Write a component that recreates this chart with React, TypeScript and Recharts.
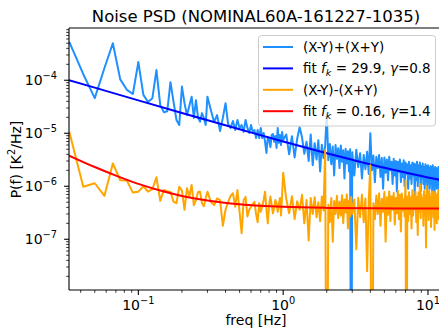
import React from 'react';
import { LineChart, Line, XAxis, YAxis } from 'recharts';

const FONT = '"DejaVu Sans", sans-serif';

// PSD bins. Each segment is a regular frequency grid (start, step in Hz);
// low frequencies are kept at full resolution, higher ones thinned out.
const gridA = { start: 1 / 30, step: 1 / 120 };
const gridB = { start: 19 / 60, step: 1 / 60 };
const gridC = { start: 1.05, step: 0.05 };
const gridD = { start: 3.1, step: 0.1 };

// (X-Y)+(X+Y)  [K^2/Hz]
const sumA = [
  5.3e-4, 1.3e-4, 4.6e-5, 1.7e-4, 5.0e-4, 1.04e-4, 6.6e-5, 5.5e-5, 2.2e-4, 5.3e-5, 3.9e-5,
  4.6e-5, 1.56e-4, 3.4e-5, 2.5e-5, 2.6e-5, 9.2e-5, 3.9e-5, 1.78e-5, 1.43e-5, 7.6e-5, 3.7e-5,
  2.2e-5, 3.3e-5, 4.9e-5, 1.95e-5, 4.2e-5, 1.95e-5, 1.66e-5, 2.4e-5, 1.95e-5, 1.43e-5, 4.9e-5,
];
const sumB = [
  2.75e-5, 1.63e-5, 2.2e-5, 1.1e-5, 1.95e-5, 3.7e-5, 1.5e-5, 1.26e-5, 1.7e-5, 1.15e-5, 1.78e-5,
  1.26e-5, 1.43e-5, 1.06e-5, 1.78e-5, 1.26e-5, 1.01e-5, 1.43e-5, 1.06e-5, 1.15e-5, 8.1e-6,
  1.15e-5, 8.1e-6, 1.26e-5, 8.1e-6, 1.01e-5, 6.9e-6, 4.25e-6, 8.5e-6, 7.5e-6, 5.5e-6, 9.3e-6,
  9.7e-6, 6.9e-6, 8.9e-6, 5.3e-6, 1.26e-5, 6.6e-6, 9.3e-6, 6.0e-6, 1.06e-5, 7.5e-6,
];
const sumC = [
  9.5e-6, 4.0e-6, 8.8e-6, 3.5e-6, 7.9e-6, 1.3e-5, 8.4e-6, 4.1e-6, 6.9e-6, 3.0e-6, 9.5e-6,
  2.5e-6, 6.5e-6, 3.2e-6, 7.4e-6, 1.9e-6, 6.1e-6, 3.4e-6, 5.8e-6, 2.4e-5, 3.1e-6, 6.3e-6,
  2.6e-6, 5.6e-6, 1.6e-6, 6.0e-6, 3.3e-6, 5.2e-6, 2.2e-6, 5.9e-6, 2.9e-6, 4.8e-6, 1.4e-6,
  5.1e-6, 2.7e-6, 4.6e-6, 1.9e-6, 5.0e-6, 0, 4.4e-6,
];
const sumD = [
  1.6e-6, 4.9e-6, 2.3e-6, 4.2e-6, 1.4e-6, 3.9e-6, 2.1e-6, 4.5e-6, 1.7e-6, 1.0e-5, 2.0e-6,
  3.8e-6, 1.2e-6, 3.6e-6, 2.2e-6, 3.9e-6, 1.5e-6, 3.4e-6, 0.9e-6, 3.5e-6, 1.8e-6, 3.2e-6,
  1.3e-6, 3.6e-6, 2.0e-6, 2.9e-6, 1.1e-6, 3.3e-6, 1.6e-6, 3.0e-6, 0.8e-6, 2.9e-6, 1.9e-6,
  3.2e-6, 1.2e-6, 2.7e-6, 1.5e-6, 3.1e-6, 1.0e-6, 2.8e-6, 1.7e-6, 2.6e-6, 0.9e-6, 2.9e-6,
  1.4e-6, 2.5e-6, 1.1e-6, 2.8e-6, 1.6e-6, 2.7e-6, 0.7e-6, 2.6e-6, 1.3e-6, 2.9e-6, 1.0e-6,
  2.5e-6, 1.5e-6, 2.8e-6, 0.8e-6, 2.4e-6, 1.4e-6, 2.7e-6, 1.1e-6, 2.3e-6, 0.9e-6, 2.6e-6,
  1.3e-6, 2.4e-6, 0.7e-6, 2.5e-6, 1.2e-6, 2.2e-6, 0.9e-6, 2.4e-6, 1.4e-6, 2.3e-6, 0.8e-6,
  2.5e-6, 1.1e-6, 2.1e-6, 0.7e-6, 2.3e-6, 1.3e-6, 2.2e-6, 0.9e-6, 2.0e-6, 1.2e-6, 2.3e-6,
  0.8e-6, 2.1e-6, 1.0e-6, 1.9e-6, 0.75e-6, 2.1e-6, 1.1e-6, 1.8e-6,
];

// (X-Y)-(X+Y)  [K^2/Hz]
const diffA = [
  1.07e-5, 9.8e-7, 1.14e-6, 6.6e-7, 2.7e-6, 1.3e-6, 1.28e-6, 7.6e-7, 7.9e-7, 1.0e-6, 7.9e-7,
  8.8e-7, 1.48e-6, 5.3e-7, 8.5e-7, 8.1e-7, 7.8e-7, 5.1e-7, 4.8e-7, 9.8e-7, 8.3e-7, 3.6e-7,
  9.2e-7, 6.4e-7, 1.06e-6, 4.4e-7, 5.5e-7, 7.8e-7, 7.9e-7, 4.8e-7, 4.2e-7, 6.0e-7, 7.9e-7,
];
const diffB = [
  5.1e-7, 4.4e-7, 5.9e-7, 5.5e-7, 1.8e-7, 3.6e-7, 5.0e-7, 6.6e-7, 7.4e-7, 4.1e-7, 8.5e-7,
  3.3e-7, 1.3e-7, 5.5e-7, 6.3e-7, 2.7e-7, 3.6e-7, 4.1e-7, 4.6e-7, 5.1e-7, 3.0e-7, 2.1e-7,
  4.8e-7, 3.3e-7, 4.1e-7, 5.5e-7, 7.9e-7, 3.6e-7, 2.0e-7, 4.4e-7, 6.4e-7, 4.4e-7, 3.1e-7,
  3.9e-7, 5.5e-7, 4.8e-7, 3.3e-7, 4.6e-7, 6.0e-7, 2.8e-7, 6.9e-7, 1.8e-6,
];
const diffC = [
  5.8e-7, 3.1e-7, 6.5e-7, 2.4e-7, 5.2e-7, 3.6e-7, 6.9e-7, 2.0e-7, 5.5e-7, 0.95e-7, 6.0e-7,
  3.0e-7, 6.2e-7, 2.6e-7, 5.0e-7, 2.2e-7, 6.4e-7, 3.5e-7, 4.8e-6, 0, 4.5e-7, 2.1e-7,
  6.0e-7, 0.9e-7, 5.3e-7, 3.0e-7, 6.6e-7, 2.5e-7, 5.1e-7, 2.8e-7, 6.8e-7, 2.0e-7, 5.6e-7,
  3.2e-7, 7.0e-7, 1.6e-7, 5.4e-7, 2.7e-7, 6.3e-7, 3.0e-7,
];
const diffD = [
  5.6e-7, 0.65e-7, 6.1e-7, 2.6e-7, 7.0e-7, 2.1e-7, 5.9e-7, 0.25e-7, 5.4e-7, 2.5e-6, 0,
  4.8e-7, 2.4e-7, 6.7e-7, 3.0e-7, 7.4e-7, 1.8e-7, 5.8e-7, 3.3e-7, 7.8e-7, 0.9e-7, 6.2e-7,
  2.9e-7, 8.0e-7, 2.2e-7, 6.5e-7, 3.6e-7, 7.5e-7, 1.9e-7, 6.0e-7, 3.1e-7, 8.2e-7, 2.4e-7,
  6.9e-7, 1.4e-7, 7.3e-7, 3.5e-7, 5.7e-7, 2.7e-7, 1.3e-6, 0, 6.4e-7, 2.2e-7, 7.7e-7,
  3.0e-7, 6.2e-7, 1.6e-7, 8.4e-7, 2.8e-7, 6.8e-7, 3.7e-7, 7.9e-7, 2.1e-7, 6.3e-7, 1.2e-7,
  7.6e-7, 3.3e-7, 1.1e-6, 2.5e-7, 7.1e-7, 3.9e-7, 6.0e-7, 1.8e-7, 8.1e-7, 2.9e-7, 6.6e-7,
  0.7e-7, 1.0e-6, 3.4e-7, 7.0e-7, 2.3e-7, 8.3e-7, 3.1e-7, 6.1e-7, 1.7e-7, 7.4e-7, 3.6e-7,
  8.0e-7, 2.6e-7, 6.7e-7, 1.5e-7, 7.8e-7, 3.2e-7, 6.4e-7, 2.0e-7, 7.2e-7, 3.8e-7, 8.5e-7,
  2.4e-7, 6.9e-7, 1.3e-7, 7.5e-7, 3.0e-7, 6.2e-7, 2.7e-7, 7.1e-7,
];

// fitted 1/f models
const sumFitFreq = [0.0332, 0.05, 0.1, 0.2, 0.5, 1, 2, 3, 5, 7, 10, 12.7];
const sumFitVal = [1.0e-4, 7.25e-5, 4.18e-5, 2.42e-5, 1.19e-5, 6.99e-6, 4.2e-6, 3.16e-6, 2.24e-6, 1.82e-6, 1.47e-6, 1.29e-6];
const diffFitFreq = [0.0332, 0.05, 0.07, 0.1, 0.15, 0.2, 0.3, 0.5, 0.7, 1, 2, 4, 12.7];
const diffFitVal = [3.8e-6, 2.31e-6, 1.59e-6, 1.11e-6, 7.96e-7, 6.58e-7, 5.38e-7, 4.57e-7, 4.28e-7, 4.09e-7, 3.91e-7, 3.84e-7, 3.81e-7];

const xMajor = [0.1, 1, 10];
const xMajorExp = ['\u22121', '0', '1'];
const xMinor = [0.04, 0.05, 0.06, 0.07, 0.08, 0.09, 0.2, 0.3, 0.4, 0.5, 0.6, 0.7, 0.8, 0.9, 2, 3, 4, 5, 6, 7, 8, 9];
const yMajor = [1e-7, 1e-6, 1e-5, 1e-4];
const yMajorExp = ['\u22127', '\u22126', '\u22125', '\u22124'];
const yMinor = [
  2e-8, 3e-8, 4e-8, 5e-8, 6e-8, 7e-8, 8e-8, 9e-8,
  2e-7, 3e-7, 4e-7, 5e-7, 6e-7, 7e-7, 8e-7, 9e-7,
  2e-6, 3e-6, 4e-6, 5e-6, 6e-6, 7e-6, 8e-6, 9e-6,
  2e-5, 3e-5, 4e-5, 5e-5, 6e-5, 7e-5, 8e-5, 9e-5,
  2e-4, 3e-4, 4e-4, 5e-4, 6e-4, 7e-4, 8e-4, 9e-4,
];

const legendItems = [
  { color: '#1e90ff', kind: 'sum' },
  { color: '#0000ff', kind: 'sumFit' },
  { color: '#ffa500', kind: 'diff' },
  { color: '#ff0000', kind: 'diffFit' },
];

const ZERO_FLOOR = 1e-12; // zero bins cannot sit on a log axis

const bins = (grid: { start: number; step: number }, vals: number[]) =>
  vals.map((p, i) => ({ f: grid.start + i * grid.step, p: p > 0 ? p : ZERO_FLOOR }));

const sumData = [...bins(gridA, sumA), ...bins(gridB, sumB), ...bins(gridC, sumC), ...bins(gridD, sumD)];
const diffData = [...bins(gridA, diffA), ...bins(gridB, diffB), ...bins(gridC, diffC), ...bins(gridD, diffD)];
const sumFit = sumFitFreq.map((f, i) => ({ f, p: sumFitVal[i] }));
const diffFit = diffFitFreq.map((f, i) => ({ f, p: diffFitVal[i] }));

const W = 443;
const H = 329;
const LEFT = 69;
const TOP = 28;
const BOTTOM = 290;

const XTick = (props: any) => {
  const { x, payload } = props;
  const idx = xMajor.indexOf(payload.value);
  const major = idx >= 0;
  return (
    <g>
      <line x1={x} x2={x} y1={BOTTOM} y2={BOTTOM + (major ? 4.9 : 2.8)} stroke="#000" strokeWidth={major ? 1.1 : 0.8} />
      {major && (
        <text x={x} y={310} textAnchor="middle" fontFamily={FONT} fontSize={14} fill="#000">
          10<tspan dy={-6} fontSize={9.8}>{xMajorExp[idx]}</tspan>
        </text>
      )}
    </g>
  );
};

const YTick = (props: any) => {
  const { y, payload } = props;
  const idx = yMajor.indexOf(payload.value);
  const major = idx >= 0;
  return (
    <g>
      <line x1={LEFT} x2={LEFT - (major ? 4.9 : 2.8)} y1={y} y2={y} stroke="#000" strokeWidth={major ? 1.1 : 0.8} />
      {major && (
        <text x={57} y={y + 5} textAnchor="end" fontFamily={FONT} fontSize={14} fill="#000">
          10<tspan dy={-6} fontSize={9.8}>{yMajorExp[idx]}</tspan>
        </text>
      )}
    </g>
  );
};

const LegendLabel = ({ kind }: { kind: string }) => {
  if (kind === 'sum') return <>(X-Y)+(X+Y)</>;
  if (kind === 'diff') return <>(X-Y)-(X+Y)</>;
  const fk = kind === 'sumFit' ? '29.9' : '0.16';
  const g = kind === 'sumFit' ? '0.8' : '1.4';
  return (
    <>
      fit <tspan fontStyle="italic">f</tspan>
      <tspan fontSize={9.5} dy={3} fontStyle="italic">k</tspan>
      <tspan dy={-3}>{` = ${fk}, `}</tspan>
      <tspan fontStyle="italic">γ</tspan>={g}
    </>
  );
};

export default function App() {
  const line = { dot: false, activeDot: false, isAnimationActive: false, strokeWidth: 2, strokeLinejoin: 'round' as const, dataKey: 'p', type: 'linear' as const };
  return (
    <div style={{ position: 'fixed', left: 0, top: 0, width: 439, height: 329, overflow: 'hidden', background: '#fff' }}>
      <LineChart width={W} height={H} margin={{ top: TOP, right: 0, bottom: 0, left: 0 }}>
        <XAxis
          dataKey="f"
          type="number"
          scale="log"
          domain={[0.0332, 12.7]}
          allowDataOverflow
          ticks={[...xMajor, ...xMinor]}
          interval={0}
          tick={<XTick />}
          tickLine={false}
          tickSize={0}
          tickMargin={0}
          height={H - BOTTOM}
          axisLine={{ stroke: '#000', strokeWidth: 1.1 }}
        />
        <YAxis
          type="number"
          scale="log"
          domain={[1.104e-8, 9.68e-4]}
          allowDataOverflow
          ticks={[...yMajor, ...yMinor]}
          interval={0}
          tick={<YTick />}
          tickLine={false}
          tickSize={0}
          tickMargin={0}
          width={LEFT}
          axisLine={{ stroke: '#000', strokeWidth: 1.1 }}
        />
        <Line {...line} data={sumData} stroke="#1e90ff" />
        <Line {...line} data={sumFit} stroke="#0000ff" type="monotone" />
        <Line {...line} data={diffData} stroke="#ffa500" />
        <Line {...line} data={diffFit} stroke="#ff0000" type="monotone" />
      </LineChart>
      <svg width={439} height={329} style={{ position: 'absolute', left: 0, top: 0, pointerEvents: 'none' }}>
        <line x1={LEFT} x2={439} y1={TOP} y2={TOP} stroke="#000" strokeWidth={1.1} />
        <text x={256} y={22} textAnchor="middle" fontFamily={FONT} fontSize={16.5} fill="#000">
          Noise PSD (NOMINAL60A-161227-1035)
        </text>
        <text x={256} y={325} textAnchor="middle" fontFamily={FONT} fontSize={14} fill="#000">
          freq [Hz]
        </text>
        <text x={21} y={159.5} transform="rotate(-90 21 159.5)" textAnchor="middle" fontFamily={FONT} fontSize={14} fill="#000">
          P(f) [K<tspan dy={-6} fontSize={9.8}>2</tspan>
          <tspan dy={6}>/Hz]</tspan>
        </text>
        <rect x={258.5} y={35.5} width={177} height={90.5} rx={3} fill="#fff" fillOpacity={0.8} stroke="#cccccc" />
        {legendItems.map((it, i) => {
          const ry = 47 + i * 21.4;
          return (
            <g key={it.kind}>
              <line x1={263} x2={293} y1={ry} y2={ry} stroke={it.color} strokeWidth={2} />
              <text x={303} y={ry + 5} fontFamily={FONT} fontSize={13.5} fill="#000">
                <LegendLabel kind={it.kind} />
              </text>
            </g>
          );
        })}
      </svg>
    </div>
  );
}
